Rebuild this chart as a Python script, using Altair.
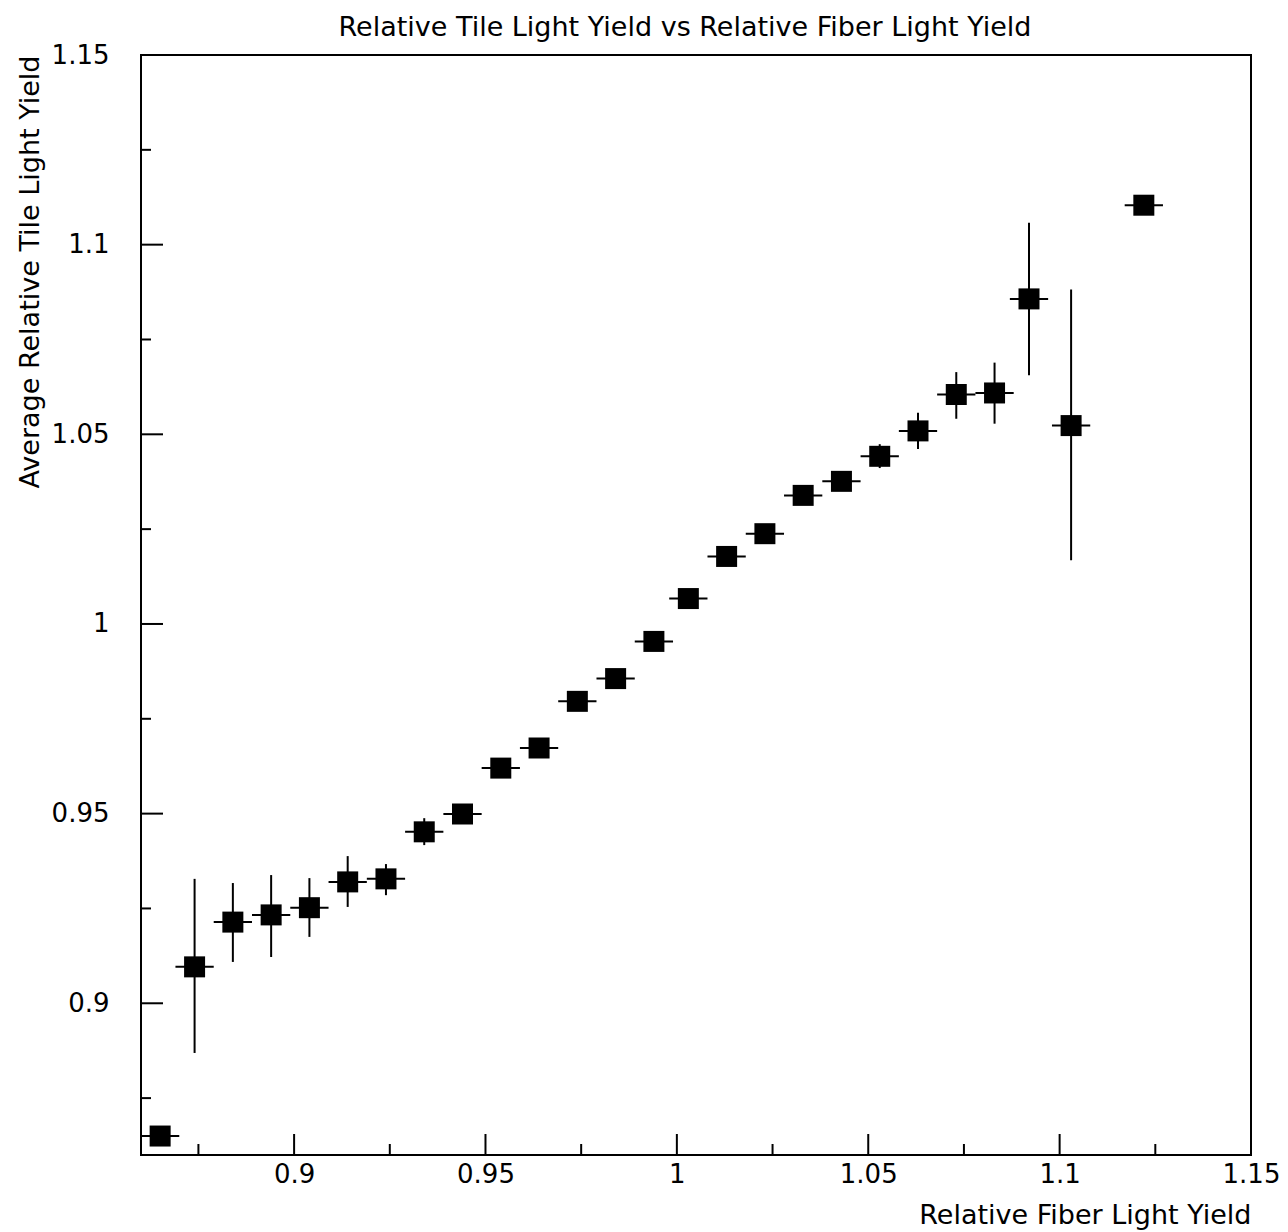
import altair as alt
import pandas as pd

# ---- data ----
x_vals = [0.865, 0.874, 0.884, 0.894, 0.904, 0.914, 0.924, 0.934, 0.944, 0.954,
          0.964, 0.974, 0.984, 0.994, 1.003, 1.013, 1.023, 1.033, 1.043, 1.053,
          1.063, 1.073, 1.083, 1.092, 1.103, 1.122]
y_vals = [0.8650, 0.9096, 0.9214, 0.9233, 0.9252, 0.9320, 0.9328, 0.9452, 0.9499, 0.9620,
          0.9673, 0.9796, 0.9856, 0.9954, 1.0067, 1.0178, 1.0238, 1.0339, 1.0376, 1.0442,
          1.0509, 1.0605, 1.0609, 1.0857, 1.0523, 1.1104]
y_lo = [0.8630, 0.8869, 0.9109, 0.9122, 0.9175, 0.9254, 0.9285, 0.9417, 0.9475, 0.9597,
        0.9652, 0.9776, 0.9836, 0.9934, 1.0047, 1.0158, 1.0218, 1.0319, 1.0356, 1.0411,
        1.0461, 1.0541, 1.0528, 1.0656, 1.0168, 1.1084]
y_hi = [0.8670, 0.9328, 0.9317, 0.9338, 0.9330, 0.9388, 0.9367, 0.9488, 0.9523, 0.9643,
        0.9694, 0.9816, 0.9876, 0.9974, 1.0087, 1.0198, 1.0258, 1.0359, 1.0396, 1.0474,
        1.0557, 1.0664, 1.0689, 1.1058, 1.0882, 1.1124]
x_err = [0.005, 0.005, 0.005, 0.005, 0.005, 0.005, 0.005, 0.005, 0.005, 0.005,
         0.005, 0.005, 0.005, 0.005, 0.005, 0.005, 0.005, 0.005, 0.005, 0.005,
         0.005, 0.005, 0.005, 0.005, 0.005, 0.005]

label_vals = [0.9, 0.95, 1.0, 1.05, 1.1, 1.15]
major_ticks = [0.9, 0.95, 1.0, 1.05, 1.1]
minor_ticks = [0.875, 0.925, 0.975, 1.025, 1.075, 1.125]

TITLE = "Relative Tile Light Yield vs Relative Fiber Light Yield"
X_TITLE = "Relative Fiber Light Yield"
Y_TITLE = "Average Relative Tile Light Yield"

df = pd.DataFrame({
    "x": x_vals,
    "y": y_vals,
    "ylo": y_lo,
    "yhi": y_hi,
    "xlo": [a - e for a, e in zip(x_vals, x_err)],
    "xhi": [a + e for a, e in zip(x_vals, x_err)],
})

W, H = 1110, 1100
F = "DejaVu Sans"

xs = alt.Scale(domain=[0.86, 1.15], nice=False, zero=False)
ys = alt.Scale(domain=[0.86, 1.15], nice=False, zero=False)

xaxis = alt.Axis(values=label_vals, format="~g", ticks=False, domain=False, grid=False,
                 labelFont=F, labelFontSize=26, labelColor="black", labelPadding=6,
                 labelFlush=False, labelOverlap=False,
                 titleFont=F, titleFontSize=27, titleFontWeight="normal", titleColor="black",
                 titleAnchor="end", titleAlign="right", titleBaseline="middle",
                 titleX=W, titleY=60)
yaxis = alt.Axis(values=label_vals, format="~g", ticks=False, domain=False, grid=False,
                 labelFont=F, labelFontSize=26, labelColor="black", labelPadding=32,
                 labelFlush=False, labelOverlap=False,
                 titleFont=F, titleFontSize=27, titleFontWeight="normal", titleColor="black",
                 titleAngle=270, titleAnchor="end", titleAlign="right", titleBaseline="middle",
                 titleX=-111, titleY=0)


def X(field):
    return alt.X(field, type="quantitative", scale=xs, axis=xaxis, title=X_TITLE)


def Y(field):
    return alt.Y(field, type="quantitative", scale=ys, axis=yaxis, title=Y_TITLE)


base = alt.Chart(df)

vbars = base.mark_rule(color="black", strokeWidth=2).encode(
    x=X("x"), y=Y("ylo"), y2="yhi"
)
hbars = base.mark_rule(color="black", strokeWidth=2).encode(
    x=X("xlo"), x2="xhi", y=Y("y")
)
points = base.mark_square(size=441, color="black", opacity=1).encode(
    x=X("x"), y=Y("y")
)

maj = alt.Chart(pd.DataFrame({"v": major_ticks}))
mnr = alt.Chart(pd.DataFrame({"v": minor_ticks}))

ytick_major = maj.mark_rule(color="black", strokeWidth=2).encode(
    y=Y("v"), x=alt.value(0), x2=alt.value(22)
)
ytick_minor = mnr.mark_rule(color="black", strokeWidth=2).encode(
    y=Y("v"), x=alt.value(0), x2=alt.value(10)
)
xtick_major = maj.mark_rule(color="black", strokeWidth=2).encode(
    x=X("v"), y=alt.value(H), y2=alt.value(H - 21)
)
xtick_minor = mnr.mark_rule(color="black", strokeWidth=2).encode(
    x=X("v"), y=alt.value(H), y2=alt.value(H - 11)
)

chart = alt.layer(
    ytick_major, ytick_minor, xtick_major, xtick_minor, vbars, hbars, points
).properties(
    width=W,
    height=H,
    title=alt.Title(TITLE, font=F, fontSize=27, fontWeight="normal", color="black",
                    anchor="middle", frame="group", offset=12, dx=-11, dy=12),
    autosize=alt.AutoSizeParams(type="none"),
    padding={"left": 141, "top": 55, "right": 37, "bottom": 77},
    background="white",
).configure_view(
    stroke="black", strokeWidth=2
)

chart.save("out.html", embed_options={"renderer": "svg", "actions": False})
